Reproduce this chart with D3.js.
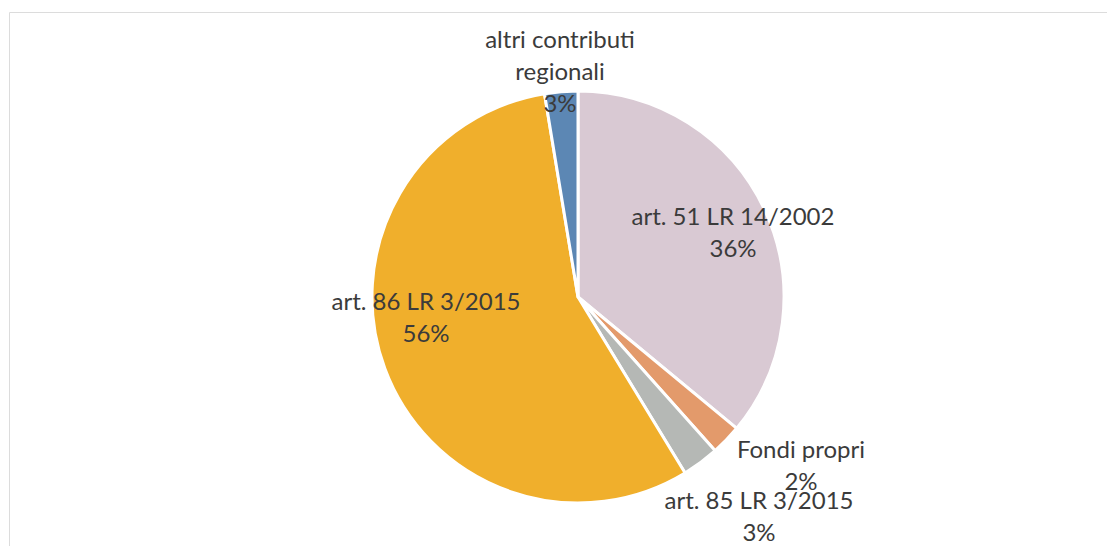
<!DOCTYPE html>
<html>
<head>
<meta charset="utf-8">
<title>Pie</title>
<script src="https://cdn.jsdelivr.net/npm/d3@7"></script>
<style>
    body { margin:0; background:#fff; }
    text { font-family: Lato, 'Open Sans', sans-serif; fill:#3b3b3b; }
</style>
</head>
<body>
<svg id="svg" width="1107" height="546"></svg>
<script>

// data, clockwise from 12 o'clock
var labels = ['art. 51 LR 14/2002', 'Fondi propri', 'art. 85 LR 3/2015', 'art. 86 LR 3/2015', 'altri contributi regionali'];
var values = [36.0, 2.4, 2.9, 56.1, 2.6];
var colors = ['#d9c9d3', '#e39a6b', '#b5b8b5', '#f0af2c', '#5c87b4'];

// label lines (wrapped the way the chart shows them), block centre offsets from pie centre
var labelLines = [['art. 51 LR 14/2002'], ['Fondi propri'], ['art. 85 LR 3/2015'], ['art. 86 LR 3/2015'], ['altri contributi', 'regionali']];
var labelOffset = [[155, -64], [223, 169], [181, 220], [-152, 21], [-18, -225]];

var cx = 578, cy = 297, radius = 206;

var svg = d3.select('#svg');

// faint chart area frame
svg.append('path')
    .attr('d', 'M9.5,546 V12.5 H1107')
    .attr('fill', 'none')
    .attr('stroke', '#dcdcdc')
    .attr('stroke-width', 1);

var pie = d3.pie().sort(null).value(function(d){ return d; });
var arc = d3.arc().innerRadius(0).outerRadius(radius);
var fmt = d3.format('.0f');

var g = svg.append('g').attr('transform', 'translate(' + cx + ',' + cy + ')');

var arcs = pie(values);

g.selectAll('path.slice').data(arcs).enter().append('path')
    .attr('class', 'slice')
    .attr('d', arc)
    .attr('fill', function(d, i){ return colors[i]; })
    .attr('stroke', '#fff')
    .attr('stroke-width', 3)
    .attr('stroke-linejoin', 'round');

var lh = 32;
var lbl = g.selectAll('text.lbl').data(arcs).enter().append('text')
    .attr('class', 'lbl')
    .attr('text-anchor', 'middle')
    .attr('font-size', '24px')
    .attr('transform', function(d, i){
        var n = labelLines[i].length + 1;
        var o = labelOffset[i];
        return 'translate(' + o[0] + ',' + (o[1] - (n - 1) * lh / 2) + ')';
    });

lbl.each(function(d, i){
    var t = d3.select(this);
    var lines = labelLines[i].concat([fmt(values[i]) + '%']);
    lines.forEach(function(s, k){
        t.append('tspan')
            .attr('x', 0)
            .attr('y', k * lh)
            .attr('dy', '0.35em')
            .text(s);
    });
});

</script>
</body>
</html>
